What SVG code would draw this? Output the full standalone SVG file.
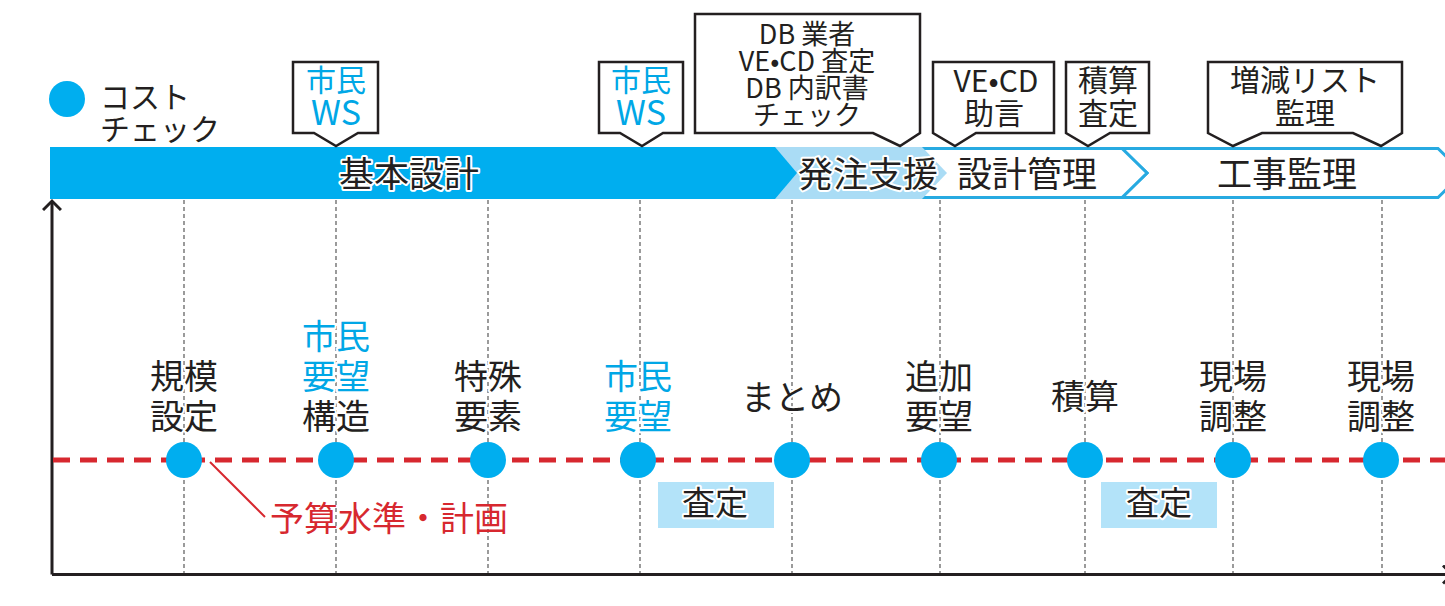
<svg xmlns="http://www.w3.org/2000/svg" width="1445" height="606" viewBox="0 0 1445 606">
<style>
text{font-family:"Noto Sans CJK JP","Noto Sans",sans-serif;}
.c{text-anchor:middle;}
.k{fill:#231f20;}
.b{fill:#00a7e6;}
.r{fill:#d7282f;}
.halo{stroke:#fff;stroke-width:4;stroke-linejoin:round;paint-order:stroke;}
.t27{font-size:27px;}
.t30{font-size:30px;}
.t34{font-size:34px;}
.t35{font-size:35px;}
.call{fill:#fff;stroke:#231f20;stroke-width:2.5;stroke-linejoin:miter;}
.grid{stroke:#666;stroke-width:1.3;stroke-dasharray:4 3;fill:none;}
.dot{fill:#00aeef;}
.satei{fill:#b3e3f9;}
.outline{fill:#fff;stroke:#27aae1;stroke-width:3;}
.axis{stroke:#231f20;stroke-width:3;fill:none;}
</style>
<defs>
<marker id="arrowOpen" viewBox="0 0 20 20" refX="10" refY="10" markerWidth="20" markerHeight="20" markerUnits="userSpaceOnUse" orient="auto">
<path d="M1,1 L10,10 L1,19" fill="none" stroke="#231f20" stroke-width="3"/>
</marker>
</defs>

<!-- Legend -->
<g id="legend">
<circle class="dot" cx="67" cy="99" r="18"/>
<text class="k t30" x="100" y="108">コスト</text>
<text class="k t30" x="100" y="140">チェック</text>
</g>

<!-- Phase band -->
<g id="phase-koji">
<path class="outline" d="M1122,148.5 H1438 L1463,173 L1438,197.5 H1122 L1147,173 Z"/>
<text class="k t35 c halo" x="1287" y="187">工事監理</text>
</g>
<g id="phase-sekkeikanri">
<path class="outline" d="M922,148.5 H1122 L1147,173 L1122,197.5 H922 Z"/>
<text class="k t35 c halo" x="1027" y="187">設計管理</text>
</g>
<g id="phase-hacchu">
<polygon points="775,147 922,147 947,173 922,199 775,199" fill="#aadcf5"/>
<text class="k t35 c halo" x="868" y="187">発注支援</text>
</g>
<g id="phase-kihon">
<polygon points="50,147 775,147 797,173 775,199 50,199" fill="#00aeef"/>
<text class="k t35 c halo" x="409" y="187">基本設計</text>
</g>

<!-- Callouts -->
<g id="callout-ws1">
<path class="call" d="M293,62 H378 V133 H358 L336,146 L314,133 H293 Z"/>
<text class="b t30 c" x="336" y="91">市民</text>
<text class="b c" x="336" y="125" style="font-size:34px">WS</text>
</g>
<g id="callout-ws2">
<path class="call" d="M599,62 H683 V133 H663 L642,146 L620,133 H599 Z"/>
<text class="b t30 c" x="641" y="91">市民</text>
<text class="b c" x="641" y="125" style="font-size:34px">WS</text>
</g>
<g id="callout-db">
<path class="call" d="M695,14 H920 V133 L900,146 L873,133 H695 Z"/>
<text class="k t27 c" x="807" y="44">DB 業者</text>
<text class="k t27 c" x="807" y="71">VE•CD 査定</text>
<text class="k t27 c" x="807" y="98">DB 内訳書</text>
<text class="k t27 c" x="807" y="125">チェック</text>
</g>
<g id="callout-vecd">
<path class="call" d="M933,62 H1054 V133 H976 L955,146 L933,133 Z"/>
<text class="k t30 c" x="996" y="92">VE•CD</text>
<text class="k t30 c" x="994" y="124">助言</text>
</g>
<g id="callout-sekisan">
<path class="call" d="M1066,62 H1149 V133 H1110 L1088,146 L1066,133 Z"/>
<text class="k t30 c" x="1108" y="91">積算</text>
<text class="k t30 c" x="1108" y="124">査定</text>
</g>
<g id="callout-zougen">
<path class="call" d="M1208,62 H1402 V133 L1381,146 L1353,133 H1262 L1233,146 L1208,133 Z"/>
<text class="k t30 c" x="1305" y="91">増減リスト</text>
<text class="k t30 c" x="1305" y="124">監理</text>
</g>

<!-- Axes and grid -->
<g id="connectors">
<g id="grid">
<line class="grid" x1="184" y1="200" x2="184" y2="574"/>
<line class="grid" x1="336" y1="200" x2="336" y2="574"/>
<line class="grid" x1="488" y1="200" x2="488" y2="574"/>
<line class="grid" x1="640" y1="200" x2="640" y2="574"/>
<line class="grid" x1="792" y1="200" x2="792" y2="574"/>
<line class="grid" x1="940" y1="200" x2="940" y2="574"/>
<line class="grid" x1="1085" y1="200" x2="1085" y2="574"/>
<line class="grid" x1="1233" y1="200" x2="1233" y2="574"/>
<line class="grid" x1="1382" y1="200" x2="1382" y2="574"/>
</g>
<path class="axis" d="M52,574.5 V201" marker-end="url(#arrowOpen)"/>
<path class="axis" d="M52,574.5 H1452" marker-end="url(#arrowOpen)"/>
<line x1="53" y1="460" x2="1445" y2="460" stroke="#d7282f" stroke-width="5" stroke-dasharray="17 10"/>
<line x1="210" y1="462" x2="265" y2="517" stroke="#d7282f" stroke-width="2"/>
</g>

<!-- Satei boxes -->
<g id="satei1">
<rect class="satei" x="658" y="482" width="116" height="46"/>
<text class="k c halo" x="715" y="515" style="font-size:33px">査定</text>
</g>
<g id="satei2">
<rect class="satei" x="1101" y="482" width="116" height="46"/>
<text class="k c halo" x="1159" y="515" style="font-size:33px">査定</text>
</g>

<!-- Budget label -->
<g id="budget-label">
<text class="r t34" x="270" y="531">予算水準・計画</text>
</g>

<!-- Cost check points -->
<g id="pt1">
<circle class="dot" cx="184" cy="460" r="18"/>
<text class="k t34 c halo" x="184" y="389">規模</text>
<text class="k t34 c halo" x="184" y="429">設定</text>
</g>
<g id="pt2">
<circle class="dot" cx="336" cy="460" r="18"/>
<text class="b t34 c halo" x="336" y="349">市民</text>
<text class="b t34 c halo" x="336" y="389">要望</text>
<text class="k t34 c halo" x="336" y="429">構造</text>
</g>
<g id="pt3">
<circle class="dot" cx="488" cy="460" r="18"/>
<text class="k t34 c halo" x="488" y="389">特殊</text>
<text class="k t34 c halo" x="488" y="429">要素</text>
</g>
<g id="pt4">
<circle class="dot" cx="638" cy="460" r="18"/>
<text class="b t34 c halo" x="638" y="389">市民</text>
<text class="b t34 c halo" x="638" y="429">要望</text>
</g>
<g id="pt5">
<circle class="dot" cx="792" cy="460" r="18"/>
<text class="k t34 c halo" x="792" y="410">まとめ</text>
</g>
<g id="pt6">
<circle class="dot" cx="939" cy="460" r="18"/>
<text class="k t34 c halo" x="939" y="389">追加</text>
<text class="k t34 c halo" x="939" y="429">要望</text>
</g>
<g id="pt7">
<circle class="dot" cx="1085" cy="460" r="18"/>
<text class="k t34 c halo" x="1085" y="409">積算</text>
</g>
<g id="pt8">
<circle class="dot" cx="1233" cy="460" r="18"/>
<text class="k t34 c halo" x="1233" y="389">現場</text>
<text class="k t34 c halo" x="1233" y="429">調整</text>
</g>
<g id="pt9">
<circle class="dot" cx="1381" cy="460" r="18"/>
<text class="k t34 c halo" x="1381" y="389">現場</text>
<text class="k t34 c halo" x="1381" y="429">調整</text>
</g>
</svg>
